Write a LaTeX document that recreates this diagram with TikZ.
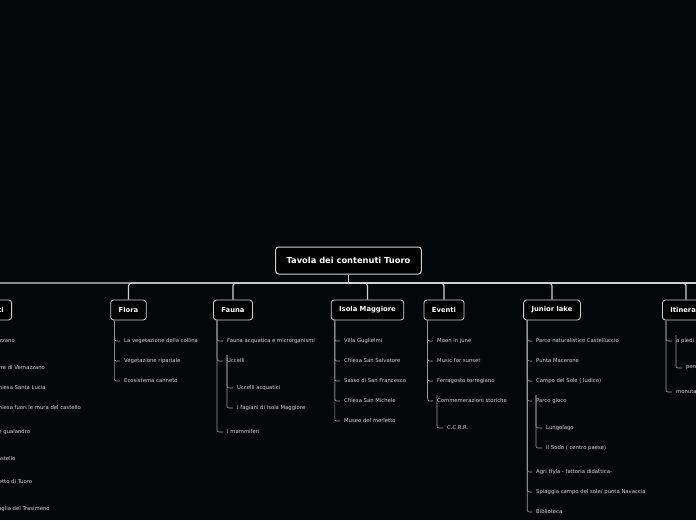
\documentclass[tikz,border=0pt]{standalone}
\usepackage{fontspec}
\setmainfont{DejaVu Sans}
\definecolor{bg}{HTML}{050608}
\definecolor{rim}{HTML}{D0D0D0}
\definecolor{itemtext}{HTML}{D8D8D8}
\definecolor{linecol}{HTML}{9A9A9A}
\begin{document}
\begin{tikzpicture}[x=1pt,y=-1pt,
  root/.style={draw=rim, line width=1pt, rounded corners=3pt, fill=black, text=white, font=\bfseries\fontsize{8.3}{9}\selectfont, minimum height=27pt, inner xsep=11pt},
  topic/.style={draw=rim, line width=0.8pt, rounded corners=3pt, fill=black, text=white, font=\bfseries\fontsize{6.8}{7}\selectfont, minimum height=20pt, inner xsep=8pt},
  item/.style={anchor=west, text=itemtext, font=\fontsize{5.3}{6}\selectfont, inner sep=1pt},
  trunk/.style={draw=rim, line width=1.2pt, rounded corners=3pt},
  branch/.style={draw=linecol, line width=0.6pt, rounded corners=2pt}]
\useasboundingbox (0,0) rectangle (696,520);
\fill[bg] (0,0) rectangle (696,520);
\clip (0,0) rectangle (696,520);
% root and topics
\node[root] (root) at (348.5,260.5){Tavola dei contenuti Tuoro};
\coordinate (hub) at (348.5,283);
\node[topic] (mo) at (-18,310){Monumenti};
\node[topic] (fl) at (128.5,310){Flora};
\node[topic] (fa) at (233,310){Fauna};
\node[topic] (im) at (367.5,310){Isola Maggiore};
\node[topic] (ev) at (444,310){Eventi};
\node[topic] (jl) at (552,310){Junior lake};
\node[topic] (it) at (686,310){Itinerari};
\draw[trunk](root.south) -- (hub);
\draw[trunk](hub) -| (mo.north);
\draw[trunk](hub) -| (fl.north);
\draw[trunk](hub) -| (fa.north);
\draw[trunk](hub) -| (im.north);
\draw[trunk](hub) -| (ev.north);
\draw[trunk](hub) -| (jl.north);
\draw[trunk](hub) -| (it.north);
\draw[trunk](hub) -- (700,283);
% Monumenti
\node[item] (mo1) at (-17,341){Vernazzano};
\node[item] (mo2) at (-8,368){Torre di Vernazzano};
\node[item] (mo3) at (-6,388){Chiesa Santa Lucia};
\node[item] (mo4) at (-6,408){Chiesa fuori le mura del castello};
\node[item] (mo5) at (-16,432){Monte gualandro};
\node[item] (mo6) at (-7,459){Castello};
\node[item] (mo7) at (-18,482){Borghetto di Tuoro};
\node[item] (mo8) at (-14,509){Battaglia del Trasimeno};
\foreach \n in {1,...,8}
  \draw[branch]([xshift=5pt]mo.south west) |- ([xshift=-3pt]mo\n.west);
% Flora
\node[item] (fl1) at (123,341){La vegetazione della collina};
\node[item] (fl2) at (123,361){Vegetazione ripariale};
\node[item] (fl3) at (123,381){Ecosistema canneto};
\foreach \n in {1,2,3}
  \draw[branch]([xshift=4pt]fl.south west) |- ([xshift=-3pt]fl\n.west);
% Fauna
\node[item] (fa1) at (226,341){Fauna acquatica e microrganismi};
\node[item] (fa2) at (226,361){Uccelli};
\node[item] (fa3) at (226,432){I mammiferi};
\node[item] (fa21) at (236,388){Uccelli acquatici};
\node[item] (fa22) at (236,408){I fagiani di Isola Maggiore};
\foreach \n in {1,2,3}
  \draw[branch]([xshift=4pt]fa.south west) |- ([xshift=-3pt]fa\n.west);
\draw[branch]([shift={(1pt,6pt)}]fa2.west) |- ([xshift=-3pt]fa21.west);
\draw[branch]([shift={(1pt,6pt)}]fa2.west) |- ([xshift=-3pt]fa22.west);
% Isola Maggiore
\node[item] (im1) at (343,341){Villa Guglielmi};
\node[item] (im2) at (343,361){Chiesa San Salvatore};
\node[item] (im3) at (343,381){Sasso di San Francesco};
\node[item] (im4) at (343,401){Chiesa San Michele};
\node[item] (im5) at (343,421){Museo del merletto};
\foreach \n in {1,...,5}
  \draw[branch]([xshift=4pt]im.south west) |- ([xshift=-3pt]im\n.west);
% Eventi
\node[item] (ev1) at (436,341){Moon in june};
\node[item] (ev2) at (436,361){Music for sunset};
\node[item] (ev3) at (436,381){Ferragosto torregiano};
\node[item] (ev4) at (436,401){Commemerazioni storiche};
\node[item] (ev41) at (446,428){C.C.R.R.};
\foreach \n in {1,...,4}
  \draw[branch]([xshift=4pt]ev.south west) |- ([xshift=-3pt]ev\n.west);
\draw[branch]([shift={(1pt,6pt)}]ev4.west) |- ([xshift=-3pt]ev41.west);
% Junior lake
\node[item] (jl1) at (535,341){Parco naturalistico Castelluccio};
\node[item] (jl2) at (535,361){Punta Macerone};
\node[item] (jl3) at (535,381){Campo del Sole ( ludico)};
\node[item] (jl4) at (535,401){Parco gioco};
\node[item] (jl5) at (535,472){Agri Hyla  - fattoria didattica-};
\node[item] (jl6) at (535,492){Spiaggia campo del sole/ punta Navaccia};
\node[item] (jl7) at (535,512){Biblioteca};
\node[item] (jl41) at (545,428){Lungolago};
\node[item] (jl42) at (545,448){Il Sodo ( centro paese)};
\foreach \n in {1,...,7}
  \draw[branch]([xshift=4pt]jl.south west) |- ([xshift=-3pt]jl\n.west);
\draw[branch]([shift={(1pt,6pt)}]jl4.west) |- ([xshift=-3pt]jl41.west);
\draw[branch]([shift={(1pt,6pt)}]jl4.west) |- ([xshift=-3pt]jl42.west);
% Itinerari
\node[item] (it1) at (675,341){a piedi};
\node[item] (it2) at (675,392){monutain bike};
\node[item] (it11) at (685,368){percorso};
\foreach \n in {1,2}
  \draw[branch]([xshift=4pt]it.south west) |- ([xshift=-3pt]it\n.west);
\draw[branch]([shift={(1pt,6pt)}]it1.west) |- ([xshift=-3pt]it11.west);
\end{tikzpicture}
\end{document}
